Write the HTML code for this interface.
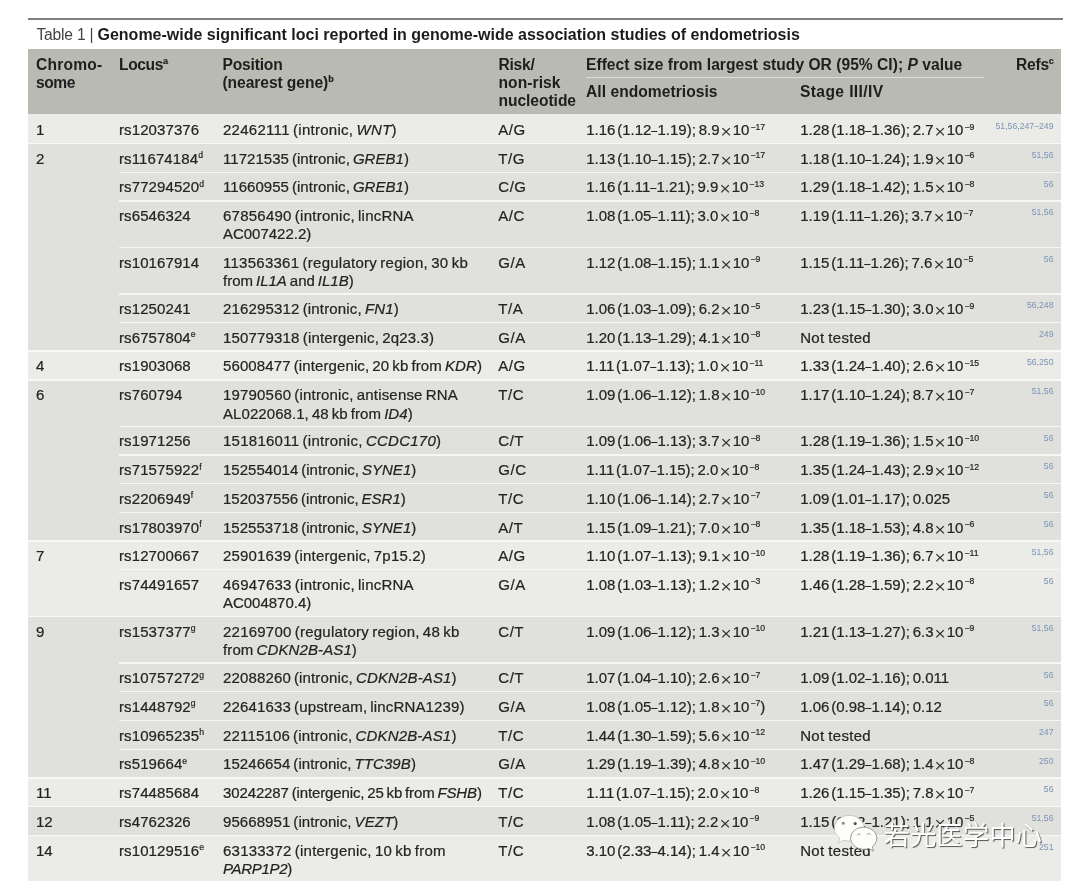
<!DOCTYPE html><html lang="en"><head><meta charset="utf-8"><title>Table 1</title><style>
html,body{margin:0;padding:0;background:#fff;}
body{width:1080px;height:884px;position:relative;overflow:hidden;filter:blur(0.45px);font-family:"Liberation Sans","Noto Sans CJK SC",sans-serif;color:#2a2a2a;}
#rule{position:absolute;left:28px;top:18.3px;width:1035px;height:1.4px;background:#808080;}
#title{position:absolute;left:36.5px;top:24.5px;font-size:15.6px;line-height:20px;white-space:nowrap;color:#444;letter-spacing:-0.2px;}
#title b{color:#1c1c1c;font-size:16px;letter-spacing:0;}
#head{position:absolute;left:28px;top:49.4px;width:1033px;height:64.2px;background:#b9bab2;}
.h{position:absolute;font-weight:bold;font-size:15.6px;line-height:18.9px;white-space:nowrap;color:#1e1e1e;}
.h sup,.c sup{font-size:58%;vertical-align:baseline;position:relative;top:-0.62em;line-height:0;-webkit-text-stroke-width:0.2px;}
#subrule{position:absolute;left:586px;top:76.5px;width:398px;height:1.6px;background:#dcdcd6;}
.g{position:absolute;left:28px;width:1033px;}
.s{position:absolute;left:119px;width:942px;height:1.5px;background:#f6f6f4;}
.gs{position:absolute;left:28px;width:1033px;height:1.8px;background:#f8f8f6;}
.c{position:absolute;font-size:15.0px;line-height:18.6px;white-space:nowrap;-webkit-text-stroke:0.22px #242424;color:#242424;}
.x{font-family:"Liberation Serif",serif;margin:0 1.1px 0 1.0px;font-size:1.32em;line-height:0;position:relative;top:3px;-webkit-text-stroke-width:0.15px;}
.d{display:inline-block;transform:scaleX(.72);margin:0 -1.1px;}
.sc{word-spacing:-1.4px;}
.c.all sup,.c.st sup{margin-left:1px;}
#wm{position:absolute;left:883.6px;top:815px;font-family:"Noto Sans CJK SC",sans-serif;font-size:26.4px;line-height:38px;color:#fff;white-space:nowrap;text-shadow:1px 1px 0.8px rgba(50,50,50,.8);}
.r{position:absolute;font-size:8.7px;line-height:10px;white-space:nowrap;color:#7b93b6;text-align:right;}
</style></head><body>
<div id="rule"></div>
<div id="title"><span id="t1">Table 1 | </span><b id="t2">Genome-wide significant loci reported in genome-wide association studies of endometriosis</b></div>
<div id="head"></div>
<div class="h" style="left:36px;top:55.6px;letter-spacing:0.22px">Chromo-</div>
<div class="h" style="left:36px;top:73.9px;letter-spacing:-0.44px">some</div>
<div class="h" style="left:119px;top:55.6px;letter-spacing:-0.38px">Locus<sup>a</sup></div>
<div class="h" style="left:222.5px;top:55.6px;letter-spacing:-0.19px">Position</div>
<div class="h" style="left:222.5px;top:73.9px;letter-spacing:-0.07px">(nearest gene)<sup>b</sup></div>
<div class="h" style="left:498.5px;top:55.6px;letter-spacing:-0.26px">Risk/</div>
<div class="h" style="left:498.5px;top:73.9px;letter-spacing:0.06px">non-risk</div>
<div class="h" style="left:498.5px;top:92.2px;letter-spacing:-0.05px">nucleotide</div>
<div class="h" style="left:586px;top:55.6px;letter-spacing:0.02px">Effect size from largest study OR (95% CI); <i>P</i> value</div>
<div class="h" style="left:586px;top:83.05px;letter-spacing:0.04px">All endometriosis</div>
<div class="h" style="left:800px;top:83.05px;letter-spacing:0.39px">Stage III/IV</div>
<div class="h" style="left:1016px;top:55.6px;letter-spacing:-0.24px">Refs<sup>c</sup></div>
<div id="subrule"></div>
<div class="g" style="top:113.6px;height:29.9px;background:#ebebe8"></div>
<div class="g" style="top:143.5px;height:207.5px;background:#e0e0dd"></div>
<div class="g" style="top:351.0px;height:28.9px;background:#ebebe8"></div>
<div class="g" style="top:379.9px;height:161.1px;background:#e0e0dd"></div>
<div class="g" style="top:541.0px;height:75.5px;background:#ebebe8"></div>
<div class="g" style="top:616.5px;height:161.3px;background:#e0e0dd"></div>
<div class="g" style="top:777.8px;height:28.7px;background:#ebebe8"></div>
<div class="g" style="top:806.5px;height:29.0px;background:#e0e0dd"></div>
<div class="g" style="top:835.5px;height:45.3px;background:#ebebe8"></div>
<div class="gs" style="top:142.6px"></div>
<div class="s" style="top:171.55px"></div>
<div class="s" style="top:200.05px"></div>
<div class="s" style="top:246.75px"></div>
<div class="s" style="top:293.05px"></div>
<div class="s" style="top:321.95px"></div>
<div class="gs" style="top:350.1px"></div>
<div class="gs" style="top:379.0px"></div>
<div class="s" style="top:425.55px"></div>
<div class="s" style="top:454.05px"></div>
<div class="s" style="top:482.75px"></div>
<div class="s" style="top:511.75px"></div>
<div class="gs" style="top:540.1px"></div>
<div class="s" style="top:568.85px"></div>
<div class="gs" style="top:615.6px"></div>
<div class="s" style="top:662.35px"></div>
<div class="s" style="top:690.85px"></div>
<div class="s" style="top:719.65px"></div>
<div class="s" style="top:748.55px"></div>
<div class="gs" style="top:776.9px"></div>
<div class="gs" style="top:805.6px"></div>
<div class="gs" style="top:834.6px"></div>
<div class="c chr" style="left:36px;top:121.0px;">1</div>
<div class="c loc" style="left:119px;top:121.0px;letter-spacing:0.1px;">rs12037376</div>
<div class="c pos" style="left:223px;top:121.0px;word-spacing:-1.2px;"><span style="letter-spacing:0.28px">22462111 (intronic, <i>WNT</i>)</span></div>
<div class="c risk" style="left:498.3px;top:121.0px;letter-spacing:0.5px;">A/G</div>
<div class="c all" style="left:586.2px;top:121.0px;word-spacing:-2.4px;">1.16 (1.12<span class="d">–</span>1.19)<span class="sc">; </span>8.9<span class="x">×</span>10<sup>−17</sup></div>
<div class="c st" style="left:800.2px;top:121.0px;word-spacing:-2.4px;">1.28 (1.18<span class="d">–</span>1.36)<span class="sc">; </span>2.7<span class="x">×</span>10<sup>−9</sup></div>
<div class="r" style="right:26.5px;top:121.3px">51,56,247–249</div>
<div class="c chr" style="left:36px;top:149.6px;">2</div>
<div class="c loc" style="left:119px;top:149.6px;letter-spacing:0.1px;">rs11674184<sup>d</sup></div>
<div class="c pos" style="left:223px;top:149.6px;word-spacing:-1.2px;"><span style="letter-spacing:0.04px">11721535 (intronic, <i>GREB1</i>)</span></div>
<div class="c risk" style="left:498.3px;top:149.6px;letter-spacing:0.5px;">T/G</div>
<div class="c all" style="left:586.2px;top:149.6px;word-spacing:-2.4px;">1.13 (1.10<span class="d">–</span>1.15)<span class="sc">; </span>2.7<span class="x">×</span>10<sup>−17</sup></div>
<div class="c st" style="left:800.2px;top:149.6px;word-spacing:-2.4px;">1.18 (1.10<span class="d">–</span>1.24)<span class="sc">; </span>1.9<span class="x">×</span>10<sup>−6</sup></div>
<div class="r" style="right:26.5px;top:149.9px">51,56</div>
<div class="c loc" style="left:119px;top:178.4px;letter-spacing:0.1px;">rs77294520<sup>d</sup></div>
<div class="c pos" style="left:223px;top:178.4px;word-spacing:-1.2px;"><span style="letter-spacing:0.04px">11660955 (intronic, <i>GREB1</i>)</span></div>
<div class="c risk" style="left:498.3px;top:178.4px;letter-spacing:0.5px;">C/G</div>
<div class="c all" style="left:586.2px;top:178.4px;word-spacing:-2.4px;">1.16 (1.11<span class="d">–</span>1.21)<span class="sc">; </span>9.9<span class="x">×</span>10<sup>−13</sup></div>
<div class="c st" style="left:800.2px;top:178.4px;word-spacing:-2.4px;">1.29 (1.18<span class="d">–</span>1.42)<span class="sc">; </span>1.5<span class="x">×</span>10<sup>−8</sup></div>
<div class="r" style="right:26.5px;top:178.7px">56</div>
<div class="c loc" style="left:119px;top:206.9px;letter-spacing:0.1px;">rs6546324</div>
<div class="c pos" style="left:223px;top:206.9px;word-spacing:-1.2px;"><span style="letter-spacing:0.24px">67856490 (intronic, lincRNA</span><br><span style="letter-spacing:-0.02px">AC007422.2)</span></div>
<div class="c risk" style="left:498.3px;top:206.9px;letter-spacing:0.5px;">A/C</div>
<div class="c all" style="left:586.2px;top:206.9px;word-spacing:-2.4px;">1.08 (1.05<span class="d">–</span>1.11)<span class="sc">; </span>3.0<span class="x">×</span>10<sup>−8</sup></div>
<div class="c st" style="left:800.2px;top:206.9px;word-spacing:-2.4px;">1.19 (1.11<span class="d">–</span>1.26)<span class="sc">; </span>3.7<span class="x">×</span>10<sup>−7</sup></div>
<div class="r" style="right:26.5px;top:207.2px">51,56</div>
<div class="c loc" style="left:119px;top:253.6px;letter-spacing:0.1px;">rs10167914</div>
<div class="c pos" style="left:223px;top:253.6px;word-spacing:-1.2px;"><span style="letter-spacing:0.26px">113563361 (regulatory region, 30 kb</span><br><span style="letter-spacing:-0.0px">from <i>IL1A</i> and <i>IL1B</i>)</span></div>
<div class="c risk" style="left:498.3px;top:253.6px;letter-spacing:0.5px;">G/A</div>
<div class="c all" style="left:586.2px;top:253.6px;word-spacing:-2.4px;">1.12 (1.08<span class="d">–</span>1.15)<span class="sc">; </span>1.1<span class="x">×</span>10<sup>−9</sup></div>
<div class="c st" style="left:800.2px;top:253.6px;word-spacing:-2.4px;">1.15 (1.11<span class="d">–</span>1.26)<span class="sc">; </span>7.6<span class="x">×</span>10<sup>−5</sup></div>
<div class="r" style="right:26.5px;top:253.9px">56</div>
<div class="c loc" style="left:119px;top:299.9px;letter-spacing:0.1px;">rs1250241</div>
<div class="c pos" style="left:223px;top:299.9px;word-spacing:-1.2px;"><span style="letter-spacing:0.16px">216295312 (intronic, <i>FN1</i>)</span></div>
<div class="c risk" style="left:498.3px;top:299.9px;letter-spacing:0.5px;">T/A</div>
<div class="c all" style="left:586.2px;top:299.9px;word-spacing:-2.4px;">1.06 (1.03<span class="d">–</span>1.09)<span class="sc">; </span>6.2<span class="x">×</span>10<sup>−5</sup></div>
<div class="c st" style="left:800.2px;top:299.9px;word-spacing:-2.4px;">1.23 (1.15<span class="d">–</span>1.30)<span class="sc">; </span>3.0<span class="x">×</span>10<sup>−9</sup></div>
<div class="r" style="right:26.5px;top:300.2px">56,248</div>
<div class="c loc" style="left:119px;top:328.8px;letter-spacing:0.1px;">rs6757804<sup>e</sup></div>
<div class="c pos" style="left:223px;top:328.8px;word-spacing:-1.2px;"><span style="letter-spacing:0.17px">150779318 (intergenic, 2q23.3)</span></div>
<div class="c risk" style="left:498.3px;top:328.8px;letter-spacing:0.5px;">G/A</div>
<div class="c all" style="left:586.2px;top:328.8px;word-spacing:-2.4px;">1.20 (1.13<span class="d">–</span>1.29)<span class="sc">; </span>4.1<span class="x">×</span>10<sup>−8</sup></div>
<div class="c st" style="left:800.2px;top:328.8px;letter-spacing:0.3px;word-spacing:-0.6px">Not tested</div>
<div class="r" style="right:26.5px;top:329.1px">249</div>
<div class="c chr" style="left:36px;top:357.1px;">4</div>
<div class="c loc" style="left:119px;top:357.1px;letter-spacing:0.1px;">rs1903068</div>
<div class="c pos" style="left:223px;top:357.1px;word-spacing:-1.2px;"><span style="letter-spacing:0.11px">56008477 (intergenic, 20 kb from <i>KDR</i>)</span></div>
<div class="c risk" style="left:498.3px;top:357.1px;letter-spacing:0.5px;">A/G</div>
<div class="c all" style="left:586.2px;top:357.1px;word-spacing:-2.4px;">1.11 (1.07<span class="d">–</span>1.13)<span class="sc">; </span>1.0<span class="x">×</span>10<sup>−11</sup></div>
<div class="c st" style="left:800.2px;top:357.1px;word-spacing:-2.4px;">1.33 (1.24<span class="d">–</span>1.40)<span class="sc">; </span>2.6<span class="x">×</span>10<sup>−15</sup></div>
<div class="r" style="right:26.5px;top:357.4px">56,250</div>
<div class="c chr" style="left:36px;top:386.0px;">6</div>
<div class="c loc" style="left:119px;top:386.0px;letter-spacing:0.1px;">rs760794</div>
<div class="c pos" style="left:223px;top:386.0px;word-spacing:-1.2px;"><span style="letter-spacing:0.18px">19790560 (intronic, antisense RNA</span><br><span style="letter-spacing:0.07px">AL022068.1, 48 kb from <i>ID4</i>)</span></div>
<div class="c risk" style="left:498.3px;top:386.0px;letter-spacing:0.5px;">T/C</div>
<div class="c all" style="left:586.2px;top:386.0px;word-spacing:-2.4px;">1.09 (1.06<span class="d">–</span>1.12)<span class="sc">; </span>1.8<span class="x">×</span>10<sup>−10</sup></div>
<div class="c st" style="left:800.2px;top:386.0px;word-spacing:-2.4px;">1.17 (1.10<span class="d">–</span>1.24)<span class="sc">; </span>8.7<span class="x">×</span>10<sup>−7</sup></div>
<div class="r" style="right:26.5px;top:386.3px">51,56</div>
<div class="c loc" style="left:119px;top:432.4px;letter-spacing:0.1px;">rs1971256</div>
<div class="c pos" style="left:223px;top:432.4px;word-spacing:-1.2px;"><span style="letter-spacing:0.26px">151816011 (intronic, <i>CCDC170</i>)</span></div>
<div class="c risk" style="left:498.3px;top:432.4px;letter-spacing:0.5px;">C/T</div>
<div class="c all" style="left:586.2px;top:432.4px;word-spacing:-2.4px;">1.09 (1.06<span class="d">–</span>1.13)<span class="sc">; </span>3.7<span class="x">×</span>10<sup>−8</sup></div>
<div class="c st" style="left:800.2px;top:432.4px;word-spacing:-2.4px;">1.28 (1.19<span class="d">–</span>1.36)<span class="sc">; </span>1.5<span class="x">×</span>10<sup>−10</sup></div>
<div class="r" style="right:26.5px;top:432.7px">56</div>
<div class="c loc" style="left:119px;top:460.9px;letter-spacing:0.1px;">rs71575922<sup>f</sup></div>
<div class="c pos" style="left:223px;top:460.9px;word-spacing:-1.2px;"><span style="letter-spacing:0.02px">152554014 (intronic, <i>SYNE1</i>)</span></div>
<div class="c risk" style="left:498.3px;top:460.9px;letter-spacing:0.5px;">G/C</div>
<div class="c all" style="left:586.2px;top:460.9px;word-spacing:-2.4px;">1.11 (1.07<span class="d">–</span>1.15)<span class="sc">; </span>2.0<span class="x">×</span>10<sup>−8</sup></div>
<div class="c st" style="left:800.2px;top:460.9px;word-spacing:-2.4px;">1.35 (1.24<span class="d">–</span>1.43)<span class="sc">; </span>2.9<span class="x">×</span>10<sup>−12</sup></div>
<div class="r" style="right:26.5px;top:461.2px">56</div>
<div class="c loc" style="left:119px;top:489.6px;letter-spacing:0.1px;">rs2206949<sup>f</sup></div>
<div class="c pos" style="left:223px;top:489.6px;word-spacing:-1.2px;"><span style="letter-spacing:-0.0px">152037556 (intronic, <i>ESR1</i>)</span></div>
<div class="c risk" style="left:498.3px;top:489.6px;letter-spacing:0.5px;">T/C</div>
<div class="c all" style="left:586.2px;top:489.6px;word-spacing:-2.4px;">1.10 (1.06<span class="d">–</span>1.14)<span class="sc">; </span>2.7<span class="x">×</span>10<sup>−7</sup></div>
<div class="c st" style="left:800.2px;top:489.6px;word-spacing:-2.4px;">1.09 (1.01<span class="d">–</span>1.17)<span class="sc">; </span>0.025</div>
<div class="r" style="right:26.5px;top:489.9px">56</div>
<div class="c loc" style="left:119px;top:518.6px;letter-spacing:0.1px;">rs17803970<sup>f</sup></div>
<div class="c pos" style="left:223px;top:518.6px;word-spacing:-1.2px;"><span style="letter-spacing:0.02px">152553718 (intronic, <i>SYNE1</i>)</span></div>
<div class="c risk" style="left:498.3px;top:518.6px;letter-spacing:0.5px;">A/T</div>
<div class="c all" style="left:586.2px;top:518.6px;word-spacing:-2.4px;">1.15 (1.09<span class="d">–</span>1.21)<span class="sc">; </span>7.0<span class="x">×</span>10<sup>−8</sup></div>
<div class="c st" style="left:800.2px;top:518.6px;word-spacing:-2.4px;">1.35 (1.18<span class="d">–</span>1.53)<span class="sc">; </span>4.8<span class="x">×</span>10<sup>−6</sup></div>
<div class="r" style="right:26.5px;top:518.9px">56</div>
<div class="c chr" style="left:36px;top:547.1px;">7</div>
<div class="c loc" style="left:119px;top:547.1px;letter-spacing:0.1px;">rs12700667</div>
<div class="c pos" style="left:223px;top:547.1px;word-spacing:-1.2px;"><span style="letter-spacing:0.18px">25901639 (intergenic, 7p15.2)</span></div>
<div class="c risk" style="left:498.3px;top:547.1px;letter-spacing:0.5px;">A/G</div>
<div class="c all" style="left:586.2px;top:547.1px;word-spacing:-2.4px;">1.10 (1.07<span class="d">–</span>1.13)<span class="sc">; </span>9.1<span class="x">×</span>10<sup>−10</sup></div>
<div class="c st" style="left:800.2px;top:547.1px;word-spacing:-2.4px;">1.28 (1.19<span class="d">–</span>1.36)<span class="sc">; </span>6.7<span class="x">×</span>10<sup>−11</sup></div>
<div class="r" style="right:26.5px;top:547.4px">51,56</div>
<div class="c loc" style="left:119px;top:575.7px;letter-spacing:0.1px;">rs74491657</div>
<div class="c pos" style="left:223px;top:575.7px;word-spacing:-1.2px;"><span style="letter-spacing:0.24px">46947633 (intronic, lincRNA</span><br><span style="letter-spacing:-0.02px">AC004870.4)</span></div>
<div class="c risk" style="left:498.3px;top:575.7px;letter-spacing:0.5px;">G/A</div>
<div class="c all" style="left:586.2px;top:575.7px;word-spacing:-2.4px;">1.08 (1.03<span class="d">–</span>1.13)<span class="sc">; </span>1.2<span class="x">×</span>10<sup>−3</sup></div>
<div class="c st" style="left:800.2px;top:575.7px;word-spacing:-2.4px;">1.46 (1.28<span class="d">–</span>1.59)<span class="sc">; </span>2.2<span class="x">×</span>10<sup>−8</sup></div>
<div class="r" style="right:26.5px;top:576.0px">56</div>
<div class="c chr" style="left:36px;top:622.6px;">9</div>
<div class="c loc" style="left:119px;top:622.6px;letter-spacing:0.1px;">rs1537377<sup>g</sup></div>
<div class="c pos" style="left:223px;top:622.6px;word-spacing:-1.2px;"><span style="letter-spacing:0.23px">22169700 (regulatory region, 48 kb</span><br><span style="letter-spacing:0.11px">from <i>CDKN2B-AS1</i>)</span></div>
<div class="c risk" style="left:498.3px;top:622.6px;letter-spacing:0.5px;">C/T</div>
<div class="c all" style="left:586.2px;top:622.6px;word-spacing:-2.4px;">1.09 (1.06<span class="d">–</span>1.12)<span class="sc">; </span>1.3<span class="x">×</span>10<sup>−10</sup></div>
<div class="c st" style="left:800.2px;top:622.6px;word-spacing:-2.4px;">1.21 (1.13<span class="d">–</span>1.27)<span class="sc">; </span>6.3<span class="x">×</span>10<sup>−9</sup></div>
<div class="r" style="right:26.5px;top:622.9px">51,56</div>
<div class="c loc" style="left:119px;top:669.2px;letter-spacing:0.1px;">rs10757272<sup>g</sup></div>
<div class="c pos" style="left:223px;top:669.2px;word-spacing:-1.2px;"><span style="letter-spacing:0.14px">22088260 (intronic, <i>CDKN2B-AS1</i>)</span></div>
<div class="c risk" style="left:498.3px;top:669.2px;letter-spacing:0.5px;">C/T</div>
<div class="c all" style="left:586.2px;top:669.2px;word-spacing:-2.4px;">1.07 (1.04<span class="d">–</span>1.10)<span class="sc">; </span>2.6<span class="x">×</span>10<sup>−7</sup></div>
<div class="c st" style="left:800.2px;top:669.2px;word-spacing:-2.4px;">1.09 (1.02<span class="d">–</span>1.16)<span class="sc">; </span>0.011</div>
<div class="r" style="right:26.5px;top:669.5px">56</div>
<div class="c loc" style="left:119px;top:697.7px;letter-spacing:0.1px;">rs1448792<sup>g</sup></div>
<div class="c pos" style="left:223px;top:697.7px;word-spacing:-1.2px;"><span style="letter-spacing:0.15px">22641633 (upstream, lincRNA1239)</span></div>
<div class="c risk" style="left:498.3px;top:697.7px;letter-spacing:0.5px;">G/A</div>
<div class="c all" style="left:586.2px;top:697.7px;word-spacing:-2.4px;">1.08 (1.05<span class="d">–</span>1.12)<span class="sc">; </span>1.8<span class="x">×</span>10<sup>−7</sup>)</div>
<div class="c st" style="left:800.2px;top:697.7px;word-spacing:-2.4px;">1.06 (0.98<span class="d">–</span>1.14)<span class="sc">; </span>0.12</div>
<div class="r" style="right:26.5px;top:698.0px">56</div>
<div class="c loc" style="left:119px;top:726.5px;letter-spacing:0.1px;">rs10965235<sup>h</sup></div>
<div class="c pos" style="left:223px;top:726.5px;word-spacing:-1.2px;"><span style="letter-spacing:0.17px">22115106 (intronic, <i>CDKN2B-AS1</i>)</span></div>
<div class="c risk" style="left:498.3px;top:726.5px;letter-spacing:0.5px;">T/C</div>
<div class="c all" style="left:586.2px;top:726.5px;word-spacing:-2.4px;">1.44 (1.30<span class="d">–</span>1.59)<span class="sc">; </span>5.6<span class="x">×</span>10<sup>−12</sup></div>
<div class="c st" style="left:800.2px;top:726.5px;letter-spacing:0.3px;word-spacing:-0.6px">Not tested</div>
<div class="r" style="right:26.5px;top:726.8px">247</div>
<div class="c loc" style="left:119px;top:755.4px;letter-spacing:0.1px;">rs519664<sup>e</sup></div>
<div class="c pos" style="left:223px;top:755.4px;word-spacing:-1.2px;"><span style="letter-spacing:0.07px">15246654 (intronic, <i>TTC39B</i>)</span></div>
<div class="c risk" style="left:498.3px;top:755.4px;letter-spacing:0.5px;">G/A</div>
<div class="c all" style="left:586.2px;top:755.4px;word-spacing:-2.4px;">1.29 (1.19<span class="d">–</span>1.39)<span class="sc">; </span>4.8<span class="x">×</span>10<sup>−10</sup></div>
<div class="c st" style="left:800.2px;top:755.4px;word-spacing:-2.4px;">1.47 (1.29<span class="d">–</span>1.68)<span class="sc">; </span>1.4<span class="x">×</span>10<sup>−8</sup></div>
<div class="r" style="right:26.5px;top:755.7px">250</div>
<div class="c chr" style="left:36px;top:783.9px;">11</div>
<div class="c loc" style="left:119px;top:783.9px;letter-spacing:0.1px;">rs74485684</div>
<div class="c pos" style="left:223px;top:783.9px;word-spacing:-1.2px;"><span style="letter-spacing:-0.12px">30242287 (intergenic, 25 kb from <i>FSHB</i>)</span></div>
<div class="c risk" style="left:498.3px;top:783.9px;letter-spacing:0.5px;">T/C</div>
<div class="c all" style="left:586.2px;top:783.9px;word-spacing:-2.4px;">1.11 (1.07<span class="d">–</span>1.15)<span class="sc">; </span>2.0<span class="x">×</span>10<sup>−8</sup></div>
<div class="c st" style="left:800.2px;top:783.9px;word-spacing:-2.4px;">1.26 (1.15<span class="d">–</span>1.35)<span class="sc">; </span>7.8<span class="x">×</span>10<sup>−7</sup></div>
<div class="r" style="right:26.5px;top:784.2px">56</div>
<div class="c chr" style="left:36px;top:812.6px;">12</div>
<div class="c loc" style="left:119px;top:812.6px;letter-spacing:0.1px;">rs4762326</div>
<div class="c pos" style="left:223px;top:812.6px;word-spacing:-1.2px;"><span style="letter-spacing:0.07px">95668951 (intronic, <i>VEZT</i>)</span></div>
<div class="c risk" style="left:498.3px;top:812.6px;letter-spacing:0.5px;">T/C</div>
<div class="c all" style="left:586.2px;top:812.6px;word-spacing:-2.4px;">1.08 (1.05<span class="d">–</span>1.11)<span class="sc">; </span>2.2<span class="x">×</span>10<sup>−9</sup></div>
<div class="c st" style="left:800.2px;top:812.6px;word-spacing:-2.4px;">1.15 (1.12<span class="d">–</span>1.21)<span class="sc">; </span>1.1<span class="x">×</span>10<sup>−5</sup></div>
<div class="r" style="right:26.5px;top:812.9px">51,56</div>
<div class="c chr" style="left:36px;top:841.6px;">14</div>
<div class="c loc" style="left:119px;top:841.6px;letter-spacing:0.1px;">rs10129516<sup>e</sup></div>
<div class="c pos" style="left:223px;top:841.6px;word-spacing:-1.2px;"><span style="letter-spacing:0.23px">63133372 (intergenic, 10 kb from</span><br><span style="letter-spacing:-0.3px"><i>PARP1P2</i>)</span></div>
<div class="c risk" style="left:498.3px;top:841.6px;letter-spacing:0.5px;">T/C</div>
<div class="c all" style="left:586.2px;top:841.6px;word-spacing:-2.4px;">3.10 (2.33<span class="d">–</span>4.14)<span class="sc">; </span>1.4<span class="x">×</span>10<sup>−10</sup></div>
<div class="c st" style="left:800.2px;top:841.6px;letter-spacing:0.3px;word-spacing:-0.6px">Not tested</div>
<div class="r" style="right:26.5px;top:841.9px">251</div>
<svg id="wmi" width="60" height="48" viewBox="826 808 60 48" style="position:absolute;left:826px;top:808px;overflow:visible"><g fill="#fdfdfc" stroke="#b9b9b5" stroke-width="0.7"><path d="M849.3 815.4c-8.3 0-15 5.7-15 12.8 0 4 2.100 7.500 5.500 9.900l-1.600 5.200 5.700-3.100c1.700 0.500 3.500 0.800 5.400 0.800 8.300 0 15-5.700 15-12.800s-6.700-12.800-15-12.800z"/><path d="M863.7 827.2c7.200 0 13.100 5 13.100 11.100 0 3.400-1.800 6.400-4.600 8.500l1.300 4.300-4.800-2.600c-1.600 0.500-3.200 0.800-5 0.800-7.200 0-13.100-5-13.100-11.100s5.900-11 13.100-11z" stroke="#8e8e8a" stroke-width="0.9"/></g><g fill="#8a8a88"><circle cx="843.3" cy="823.2" r="1.5"/><circle cx="855.2" cy="823.6" r="1.6" fill="#555"/></g><g fill="none" stroke="#9c9c99" stroke-width="0.9"><path d="M857.3 835.3a1.500 1.500 0 0 1 3 0"/><path d="M867.300 834.900a1.500 1.500 0 0 1 3 0"/></g></svg>
<div id="wm">若光医学中心</div>
</body></html>
